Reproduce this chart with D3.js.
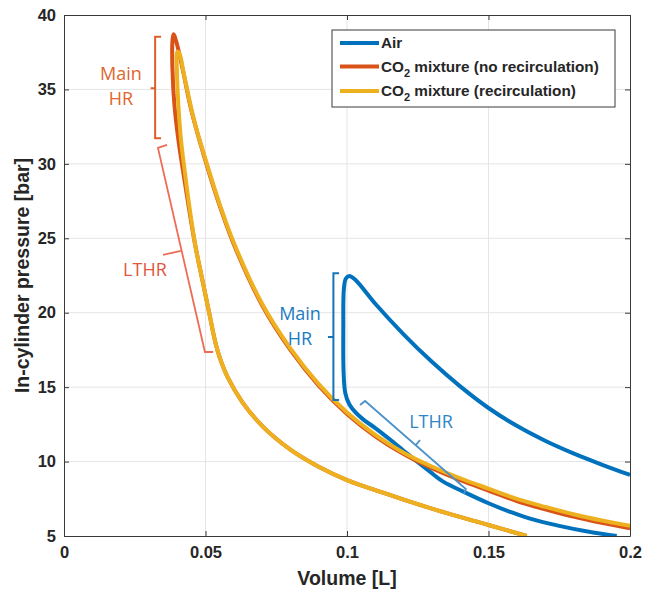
<!DOCTYPE html>
<html>
<head>
<style>
  body { margin: 0; background: #fff; }
  text { font-family: "Liberation Sans", Arial, sans-serif; }
  .ann { font-family: "Open Sans", "Noto Sans", sans-serif; }
</style>
</head>
<body>
<div id="chart"></div>
<script src="https://cdn.jsdelivr.net/npm/d3@7"></script>
<script>
// ---- data (volume [L], pressure [bar]) ----
var seriesNames = ["Air", "CO2 mixture (no recirculation)", "CO2 mixture (recirculation)"]
var seriesColors = ["#0072BD", "#D95319", "#EDB120"]

// air: compression branch up to the peak, then expansion
var airV = [0.1953, 0.185, 0.175, 0.165, 0.158, 0.15, 0.1411, 0.134, 0.1293, 0.1246, 0.12, 0.1152, 0.11, 0.1058, 0.103, 0.1008, 0.0994, 0.0988, 0.0987, 0.0989, 0.0996, 0.1008,
            0.103, 0.11, 0.12, 0.13, 0.14, 0.15, 0.16, 0.17, 0.18, 0.19, 0.2]
var airP = [5.0, 5.3, 5.68, 6.15, 6.6, 7.2, 7.98, 8.65, 9.32, 10.02, 10.73, 11.48, 12.25, 12.82, 13.3, 13.85, 14.6, 16.0, 19.0, 21.6, 22.3, 22.47,
            22.2, 20.6, 18.55, 16.7, 15.05, 13.6, 12.4, 11.4, 10.55, 9.8, 9.1]

// CO2, no recirculation
var noRecV = [0.1635, 0.15, 0.135, 0.12, 0.105, 0.1, 0.09, 0.08, 0.07, 0.063, 0.058, 0.055, 0.0535, 0.0515, 0.049, 0.0465, 0.0445, 0.0425, 0.0405, 0.039, 0.0383, 0.0383, 0.0387, 0.0397,
              0.042, 0.045, 0.05, 0.055, 0.06, 0.07, 0.08, 0.09, 0.1, 0.11, 0.12, 0.13, 0.14, 0.15, 0.16, 0.17, 0.18, 0.19, 0.2]
var noRecP = [5.0, 5.74, 6.55, 7.45, 8.4, 8.75, 9.65, 10.8, 12.4, 14.0, 15.6, 17.0, 18.0, 19.8, 22.1, 24.4, 26.6, 29.0, 31.5, 34.0, 36.5, 38.2, 38.7, 38.2,
              36.3, 33.6, 30.2, 27.2, 24.6, 20.5, 17.5, 15.1, 13.2, 11.7, 10.5, 9.55, 8.75, 8.05, 7.35, 6.8, 6.3, 5.88, 5.52]

// CO2, recirculation
var recV = [0.1635, 0.15, 0.135, 0.12, 0.105, 0.1, 0.09, 0.08, 0.07, 0.063, 0.058, 0.055, 0.0535, 0.0515, 0.049, 0.0465, 0.0447, 0.043, 0.0414, 0.0404, 0.0399, 0.04, 0.0406,
            0.0425, 0.046, 0.05, 0.055, 0.06, 0.07, 0.08, 0.09, 0.1, 0.11, 0.12, 0.13, 0.14, 0.15, 0.16, 0.17, 0.18, 0.19, 0.2]
var recP = [5.0, 5.74, 6.55, 7.45, 8.4, 8.75, 9.65, 10.8, 12.4, 14.0, 15.6, 17.0, 18.0, 19.8, 22.1, 24.4, 26.6, 29.0, 31.5, 34.0, 36.3, 37.5, 37.5,
            35.9, 32.9, 30.3, 27.3, 24.7, 20.6, 17.6, 15.2, 13.3, 11.8, 10.6, 9.67, 8.88, 8.18, 7.5, 6.96, 6.46, 6.04, 5.68]

var xTicks = [0, 0.05, 0.1, 0.15, 0.2]
var xTickLabels = ["0", "0.05", "0.1", "0.15", "0.2"]
var yTicks = [5, 10, 15, 20, 25, 30, 35, 40]

var wd = 660, ht = 591
var margin = {left: 64, right: 30, top: 15, bottom: 55}

var svg = d3.select("#chart").append("svg")
  .attr("width", wd)
  .attr("height", ht)

var x = d3.scaleLinear().domain([0, 0.2]).range([margin.left, wd - margin.right])
var y = d3.scaleLinear().domain([5, 40]).range([ht - margin.bottom, margin.top])

svg.append("clipPath").attr("id", "clip")
  .append("rect")
  .attr("x", x(0)).attr("y", y(40))
  .attr("width", x(0.2) - x(0)).attr("height", y(5) - y(40))

// grid
var grid = svg.append("g")
grid.selectAll(".gx").data(xTicks.slice(1, -1)).enter().append("line")
  .attr("x1", d => x(d)).attr("x2", d => x(d))
  .attr("y1", y(5)).attr("y2", y(40))
  .attr("stroke", "#e5e5e5")
grid.selectAll(".gy").data(yTicks.slice(1, -1)).enter().append("line")
  .attr("x1", x(0)).attr("x2", x(0.2))
  .attr("y1", d => y(d)).attr("y2", d => y(d))
  .attr("stroke", "#e5e5e5")

// axes, ticks inward like matlab
var tl = 5
var axB = svg.append("g").attr("transform", "translate(0," + y(5) + ")")
  .call(d3.axisBottom(x).tickValues(xTicks).tickFormat((d, i) => xTickLabels[i]).tickSizeInner(-tl).tickSizeOuter(0).tickPadding(10))
var axL = svg.append("g").attr("transform", "translate(" + x(0) + ",0)")
  .call(d3.axisLeft(y).tickValues(yTicks).tickSizeInner(-tl).tickSizeOuter(0).tickPadding(8))
var axT = svg.append("g").attr("transform", "translate(0," + y(40) + ")")
  .call(d3.axisTop(x).tickValues(xTicks).tickFormat("").tickSizeInner(-tl).tickSizeOuter(0))
var axR = svg.append("g").attr("transform", "translate(" + x(0.2) + ",0)")
  .call(d3.axisRight(y).tickValues(yTicks).tickFormat("").tickSizeInner(-tl).tickSizeOuter(0))

;[axB, axL, axT, axR].forEach(function(a) {
  a.select(".domain").attr("stroke", "#3a3a3a")
  a.selectAll(".tick line").attr("stroke", "#3a3a3a")
  a.selectAll("text").attr("fill", "#262626")
    .style("font-size", "16.5px").style("font-weight", "bold")
    .style("font-family", "'Liberation Sans', Arial, sans-serif")
})

svg.append("text")
  .attr("x", (x(0) + x(0.2)) / 2).attr("y", 585)
  .attr("text-anchor", "middle")
  .style("font-size", "19.5px").style("font-weight", "bold").attr("fill", "#262626")
  .text("Volume [L]")

svg.append("text")
  .attr("transform", "translate(29," + ((y(5) + y(40)) / 2) + ") rotate(-90)")
  .attr("text-anchor", "middle")
  .style("font-size", "19.5px").style("font-weight", "bold").attr("fill", "#262626")
  .text("In-cylinder pressure [bar]")

// curves
var line = d3.line()
  .x(d => x(d[0]))
  .y(d => y(d[1]))
  .curve(d3.curveCatmullRom.alpha(0.5))

var curves = [d3.zip(airV, airP), d3.zip(noRecV, noRecP), d3.zip(recV, recP)]
svg.append("g").attr("clip-path", "url(#clip)")
  .selectAll("path").data(curves).enter().append("path")
  .attr("d", line)
  .attr("fill", "none")
  .attr("stroke", (d, i) => seriesColors[i])
  .attr("stroke-width", 4)
  .attr("stroke-linejoin", "round")

// annotations (brackets in data coords)
function bracket(pts, col, w) {
  svg.append("path")
    .attr("d", d3.line().x(d => x(d[0])).y(d => y(d[1]))(pts))
    .attr("fill", "none").attr("stroke", col).attr("stroke-width", w)
}
function label(txt, vx, py, col) {
  svg.append("text").attr("class", "ann")
    .attr("x", x(vx)).attr("y", y(py))
    .attr("text-anchor", "middle")
    .style("font-size", "18px").attr("fill", col)
    .text(txt)
}

// orange main HR
bracket([[0.0343, 38.54], [0.0322, 38.54], [0.0322, 31.72], [0.0343, 31.72]], "#DE5F2A", 2)
bracket([[0.0322, 35.08], [0.0306, 35.08]], "#DE5F2A", 2)
label("Main", 0.0201, 35.63, "#E0652F")
label("HR", 0.0201, 33.95, "#E0652F")

// orange LTHR
bracket([[0.0364, 31.27], [0.0332, 31.07], [0.0498, 17.36], [0.0527, 17.36]], "#EE6C55", 1.8)
bracket([[0.0413, 24.15], [0.035, 23.88]], "#EE6C55", 1.8)
label("LTHR", 0.0286, 22.47, "#E0573D")

// blue main HR
bracket([[0.0972, 22.65], [0.0952, 22.65], [0.0952, 14.14], [0.0972, 14.14]], "#1673B8", 2)
bracket([[0.0952, 18.37], [0.0933, 18.37]], "#1673B8", 2)
label("Main", 0.0834, 19.51, "#1A7BC2")
label("HR", 0.0834, 17.83, "#1A7BC2")

// blue LTHR
bracket([[0.1046, 13.8], [0.1064, 14.07], [0.142, 8.16], [0.1413, 7.82]], "#4A92C9", 1.8)
bracket([[0.1243, 11.11], [0.1258, 11.45]], "#4A92C9", 1.8)
label("LTHR", 0.1297, 12.26, "#2F86C6")

// legend
var lg = svg.append("g")
lg.append("rect")
  .attr("x", 332).attr("y", 30).attr("width", 283).attr("height", 77)
  .attr("fill", "#fff").attr("stroke", "#3a3a3a").attr("stroke-width", 1)
var rowY = [43, 66.5, 91]
seriesNames.forEach(function(nm, i) {
  lg.append("line")
    .attr("x1", 340).attr("x2", 379).attr("y1", rowY[i]).attr("y2", rowY[i])
    .attr("stroke", seriesColors[i]).attr("stroke-width", 4)
  var t = lg.append("text")
    .attr("x", 381).attr("y", rowY[i] + 5)
    .style("font-size", "15.3px").style("font-weight", "bold").attr("fill", "#262626")
  if (nm.indexOf("CO2") == 0) {
    t.append("tspan").text("CO")
    t.append("tspan").attr("dy", 5).style("font-size", "11px").text("2")
    t.append("tspan").attr("dy", -5).text(nm.substring(3))
  } else {
    t.text(nm)
  }
})
</script>
</body>
</html>
